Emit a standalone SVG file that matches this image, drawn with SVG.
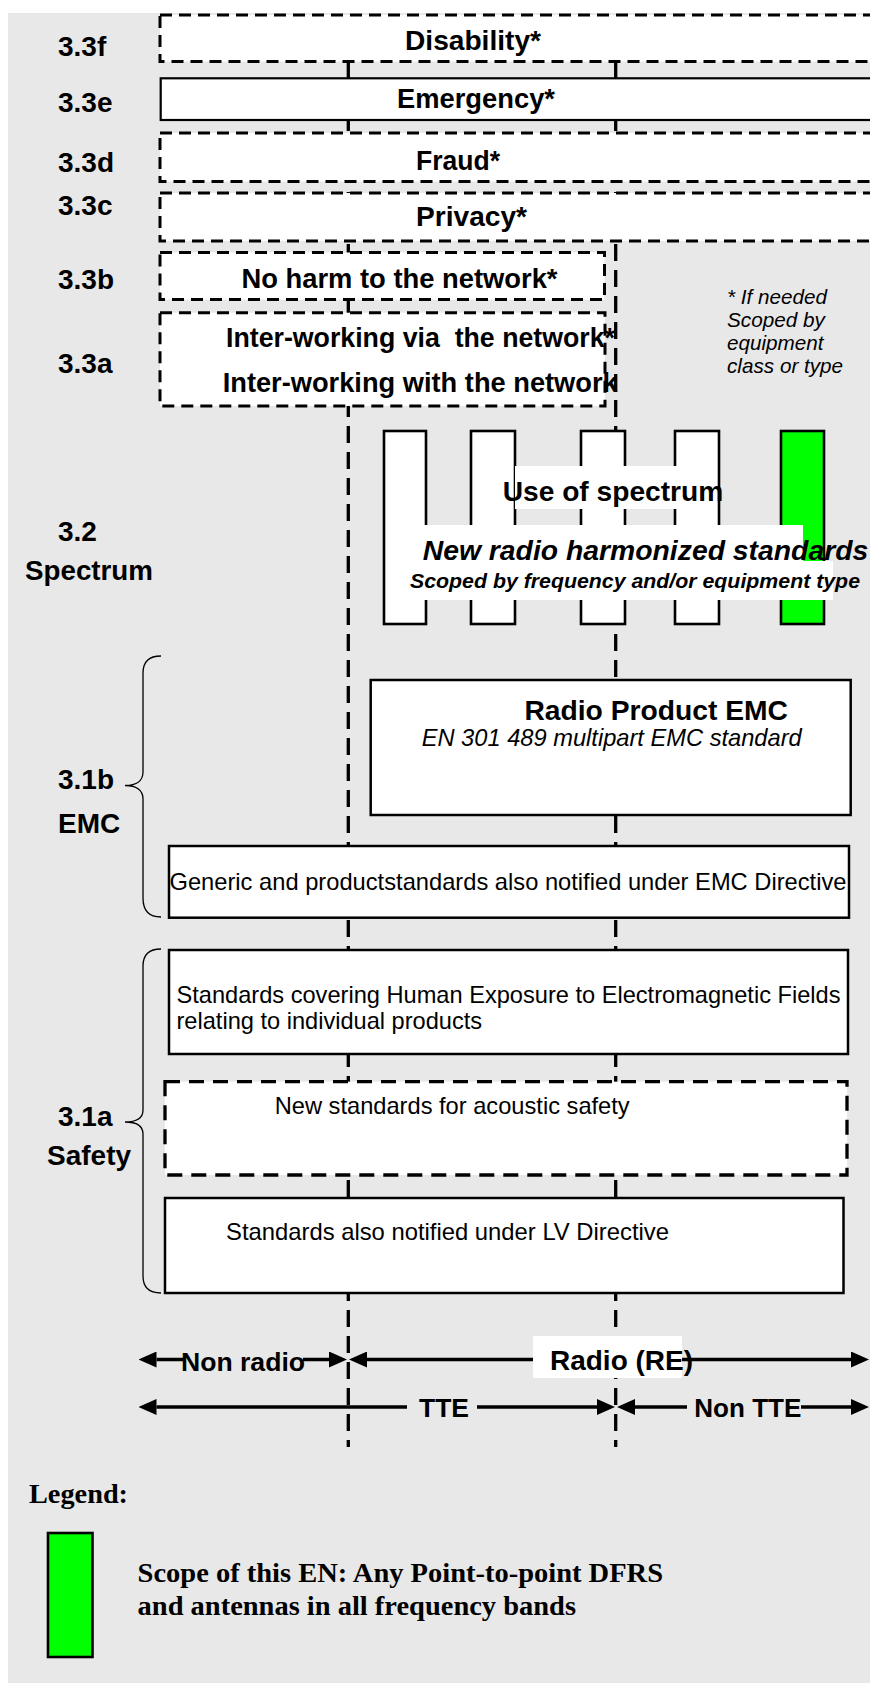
<svg xmlns="http://www.w3.org/2000/svg" width="870" height="1683" viewBox="0 0 870 1683">
<style>
.bg{fill:#e8e8e8}
.box{fill:#fff;stroke:#000;stroke-width:2.5}
.dbox{fill:#fff;stroke:#000;stroke-width:3;stroke-dasharray:12 7}
.dbox2{fill:#fff;stroke:#000;stroke-width:3.3;stroke-dasharray:15 9}
.bar{fill:#fff;stroke:#000;stroke-width:2.6}
.green{fill:#00ff00;stroke:#000;stroke-width:2.6}
.mask{fill:#fff;stroke:none}
.vline{stroke:#000;stroke-width:3.3;stroke-dasharray:17 9;fill:none}
.arrow{stroke:#000;stroke-width:3.6;fill:none;marker-start:url(#ah);marker-end:url(#ah)}
.brace{fill:none;stroke:#000;stroke-width:1.3}
text{font-family:"Liberation Sans",Arial,Helvetica,sans-serif;fill:#000}
.b{font-weight:bold;font-size:28px}
.r{font-size:23.6px}
.i{font-style:italic}
.note{font-style:italic;font-size:20.7px}
.tm{font-family:"Liberation Serif","Times New Roman",serif;font-weight:bold;font-size:28.3px}
</style>
<defs>
<marker id="ah" viewBox="0 0 18 16" refX="0" refY="8" markerWidth="18" markerHeight="16" markerUnits="userSpaceOnUse" orient="auto-start-reverse"><path d="M0,0 L18,8 L0,16 z" fill="#000"/></marker>
</defs>
<rect class="bg" x="8" y="13" width="862" height="1670"/>

<g id="connectors">
<line class="vline" x1="348.3" y1="62" x2="348.3" y2="1447"/>
<line class="vline" x1="615.7" y1="62" x2="615.7" y2="1447"/>
</g>

<g id="labels">
<text class="b" x="58" y="56">3.3f</text>
<text class="b" x="58" y="112">3.3e</text>
<text class="b" x="58" y="172">3.3d</text>
<text class="b" x="58" y="215">3.3c</text>
<text class="b" x="58" y="289">3.3b</text>
<text class="b" x="58" y="373">3.3a</text>
<text class="b" x="58" y="541">3.2</text>
<text class="b" x="25" y="580" textLength="128" lengthAdjust="spacingAndGlyphs">Spectrum</text>
<text class="b" x="58" y="789">3.1b</text>
<text class="b" x="58" y="833">EMC</text>
<text class="b" x="58" y="1126">3.1a</text>
<text class="b" x="47" y="1165">Safety</text>
</g>

<g id="n-disability">
<rect class="dbox" x="160" y="15" width="720" height="46.5"/>
<text class="b" x="405" y="50" textLength="136" lengthAdjust="spacingAndGlyphs">Disability*</text>
</g>
<g id="n-emergency">
<rect class="box" x="160.7" y="78.3" width="720" height="41.7" style="stroke-width:2.2"/>
<text class="b" x="397" y="108" textLength="158" lengthAdjust="spacingAndGlyphs">Emergency*</text>
</g>
<g id="n-fraud">
<rect class="dbox" x="160" y="133" width="720" height="48.5"/>
<text class="b" x="416" y="170" textLength="84" lengthAdjust="spacingAndGlyphs">Fraud*</text>
</g>
<g id="n-privacy">
<rect class="dbox" x="160" y="193" width="720" height="48"/>
<text class="b" x="416" y="226" textLength="111" lengthAdjust="spacingAndGlyphs">Privacy*</text>
</g>
<g id="n-noharm">
<rect class="dbox" x="160" y="252.5" width="444.5" height="47"/>
<text class="b" x="241.5" y="288" textLength="316" lengthAdjust="spacingAndGlyphs">No harm to the network*</text>
</g>
<g id="n-interworking">
<rect class="dbox" x="160" y="312.7" width="445" height="93.3"/>
<text class="b" x="226" y="346.7" xml:space="preserve" textLength="389" lengthAdjust="spacingAndGlyphs">Inter-working via  the network*</text>
<text class="b" x="222.7" y="391.7" textLength="395" lengthAdjust="spacingAndGlyphs">Inter-working with the network</text>
</g>
<g id="n-note">
<text class="note" x="727" y="304">* If needed</text>
<text class="note" x="727" y="327">Scoped by</text>
<text class="note" x="727" y="350">equipment</text>
<text class="note" x="727" y="373">class or type</text>
</g>

<g id="n-spectrum">
<rect class="bar" x="384" y="431" width="42" height="193"/>
<rect class="bar" x="471" y="431" width="44" height="193"/>
<rect class="bar" x="581" y="431" width="44" height="193"/>
<rect class="bar" x="675" y="431" width="44" height="193"/>
<rect class="green" x="781" y="431" width="43" height="193"/>
<rect class="mask" x="515" y="466" width="202" height="43"/>
<text class="b" x="502.7" y="501" textLength="220.6" lengthAdjust="spacingAndGlyphs">Use of spectrum</text>
<rect class="mask" x="408" y="525" width="395" height="36"/>
<rect class="mask" x="408" y="561" width="425" height="39"/>
<text class="b i" x="422.7" y="560" textLength="445.6" lengthAdjust="spacingAndGlyphs">New radio harmonized standards</text>
<text class="b i" x="410" y="588" style="font-size:21px" textLength="450" lengthAdjust="spacingAndGlyphs">Scoped by frequency and/or equipment type</text>
</g>

<g id="n-radioemc">
<rect class="box" x="370.7" y="680" width="480" height="135"/>
<text class="b" x="524.4" y="720" textLength="263.6" lengthAdjust="spacingAndGlyphs">Radio Product EMC</text>
<text class="r i" x="421.7" y="746" textLength="380" lengthAdjust="spacingAndGlyphs">EN 301 489 multipart EMC standard</text>
</g>
<g id="n-generic">
<rect class="box" x="169" y="846" width="680" height="71.7"/>
<text class="r" x="169.5" y="890" textLength="677" lengthAdjust="spacingAndGlyphs">Generic and productstandards also notified under EMC Directive</text>
</g>
<g id="n-human">
<rect class="box" x="169" y="950" width="679" height="104"/>
<text class="r" x="176.5" y="1003" textLength="664" lengthAdjust="spacingAndGlyphs">Standards covering Human Exposure to Electromagnetic Fields</text>
<text class="r" x="176.5" y="1029">relating to individual products</text>
</g>
<g id="n-acoustic">
<rect class="dbox2" x="165" y="1081.7" width="682" height="93.3"/>
<text class="r" x="274.7" y="1114" textLength="355" lengthAdjust="spacingAndGlyphs">New standards for acoustic safety</text>
</g>
<g id="n-lv">
<rect class="box" x="165" y="1198" width="678.5" height="95"/>
<text class="r" x="226" y="1240" textLength="443" lengthAdjust="spacingAndGlyphs">Standards also notified under LV Directive</text>
</g>

<g id="braces">
<path class="brace" d="M161,656 C149,656 143,662 143,673 L143,772 C143,781 136,785.5 125,785.5 C136,785.5 143,790 143,799 L143,898 C143,910 149,917 161,917"/>
<path class="brace" d="M161,949 C149,949 143,955 143,966 L143,1110 C143,1118 136,1122 125,1122 C136,1122 143,1126 143,1134 L143,1276 C143,1287 149,1293 161,1293"/>
</g>

<g id="scope-arrows">
<path class="arrow" d="M156.5,1359.5 H183 M303,1359.5 H329"/>
<path class="arrow" d="M367,1359.5 H851"/>
<path class="arrow" d="M156.5,1407 H407 M477,1407 H597"/>
<path class="arrow" d="M635,1407 H687 M801,1407 H851"/>
<rect class="mask" x="533" y="1336" width="149" height="42"/>
<text class="b" x="181" y="1370.7" style="font-size:26.5px" textLength="124" lengthAdjust="spacingAndGlyphs">Non radio</text>
<text class="b" x="550" y="1369.5" textLength="143" lengthAdjust="spacingAndGlyphs">Radio (RE)</text>
<text class="b" x="419" y="1417" style="font-size:26.5px" textLength="50" lengthAdjust="spacingAndGlyphs">TTE</text>
<text class="b" x="694.3" y="1416.7" style="font-size:26px" textLength="107" lengthAdjust="spacingAndGlyphs">Non TTE</text>
</g>

<g id="legend">
<text class="tm" x="29" y="1502.7">Legend:</text>
<rect class="green" x="48" y="1533" width="44.5" height="124"/>
<text class="tm" x="137.6" y="1581.7" textLength="525.4" lengthAdjust="spacingAndGlyphs">Scope of this EN: Any Point-to-point DFRS</text>
<text class="tm" x="137.6" y="1615" textLength="438.4" lengthAdjust="spacingAndGlyphs">and antennas in all frequency bands</text>
</g>
</svg>
